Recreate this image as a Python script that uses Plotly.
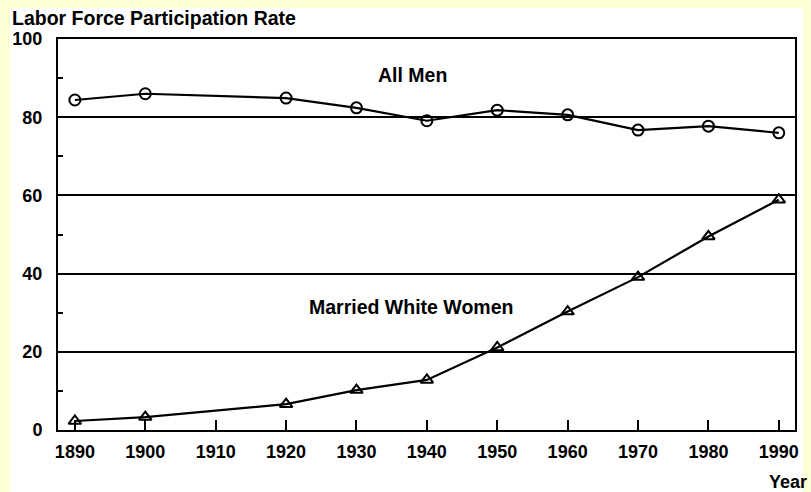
import plotly.graph_objects as go

years = [1890, 1900, 1920, 1930, 1940, 1950, 1960, 1970, 1980, 1990]
all_men = [84.4, 86.0, 84.9, 82.4, 79.1, 81.8, 80.6, 76.7, 77.7, 76.0]
married_white_women = [2.3, 3.3, 6.6, 10.2, 12.8, 21.1, 30.3, 39.1, 49.5, 58.9]
x_ticks = [1890, 1900, 1910, 1920, 1930, 1940, 1950, 1960, 1970, 1980, 1990]
y_ticks = [0, 20, 40, 60, 80, 100]
minor_y = [10, 30, 50, 70, 90]

FONT = "Liberation Sans, Arial, Helvetica, sans-serif"
PW, PH = 742, 391  # plot area size in px

fig = go.Figure()
fig.add_trace(go.Scatter(
    x=years, y=all_men, mode="lines+markers", name="All Men",
    line=dict(color="black", width=2.2),
    marker=dict(symbol="circle-open", size=11, color="black", line=dict(width=2)),
))
fig.add_trace(go.Scatter(
    x=years, y=married_white_women, mode="lines+markers", name="Married White Women",
    line=dict(color="black", width=2.2),
    marker=dict(symbol="triangle-up-open", size=11, color="black", line=dict(width=2)),
))

# white panel on yellow page
fig.add_shape(type="rect", xref="paper", yref="paper",
              x0=-48/PW, x1=750/PW, y0=-70/PH, y1=(PH + 31)/PH,
              fillcolor="white", line=dict(width=0), layer="below")

fig.update_layout(
    width=811, height=492,
    margin=dict(l=57, r=12, t=39, b=62),
    paper_bgcolor="#FFFFD6",
    plot_bgcolor="white",
    showlegend=False,
    font=dict(family=FONT, color="black", size=18, weight="bold"),
    xaxis=dict(
        range=[1887.6, 1992.3], tickvals=x_ticks, ticktext=[str(t) for t in x_ticks],
        ticks="inside", ticklen=10, tickwidth=2, tickcolor="black",
        showline=True, linecolor="black", linewidth=2, mirror=True,
        showgrid=False, zeroline=False, ticklabelstandoff=4,
        tickfont=dict(family=FONT, size=18, weight="bold"),
    ),
    yaxis=dict(
        range=[0, 100], tickvals=y_ticks, ticktext=[str(t) for t in y_ticks],
        ticks="", showline=True, linecolor="black", linewidth=2, mirror=True,
        showgrid=True, gridcolor="black", gridwidth=1.5, zeroline=False,
        ticklabelstandoff=10,
        tickfont=dict(family=FONT, size=18, weight="bold"),
        minor=dict(tickvals=minor_y, ticks="inside", ticklen=5, tickwidth=2,
                   tickcolor="black", showgrid=False),
    ),
    annotations=[
        dict(text="Labor Force Participation Rate", xref="paper", yref="paper",
             x=-48/PW, y=(PH + 21)/PH, xanchor="left", yanchor="middle",
             showarrow=False, font=dict(family=FONT, size=19.5, weight="bold")),
        dict(text="All Men", xref="x", yref="y", x=1938.0, y=90.8,
             xanchor="center", yanchor="middle", showarrow=False,
             font=dict(family=FONT, size=19.5, weight="bold")),
        dict(text="Married White Women", xref="x", yref="y", x=1937.8, y=31.5,
             xanchor="center", yanchor="middle", showarrow=False,
             font=dict(family=FONT, size=19.5, weight="bold")),
        dict(text="Year", xref="paper", yref="paper", x=1.0 + 14/PW, y=-52/PH,
             xanchor="right", yanchor="middle", showarrow=False,
             font=dict(family=FONT, size=18, weight="bold")),
    ],
)

fig.write_html("out.html", config={"displayModeBar": False},
               post_script="document.body.style.margin='0';")
